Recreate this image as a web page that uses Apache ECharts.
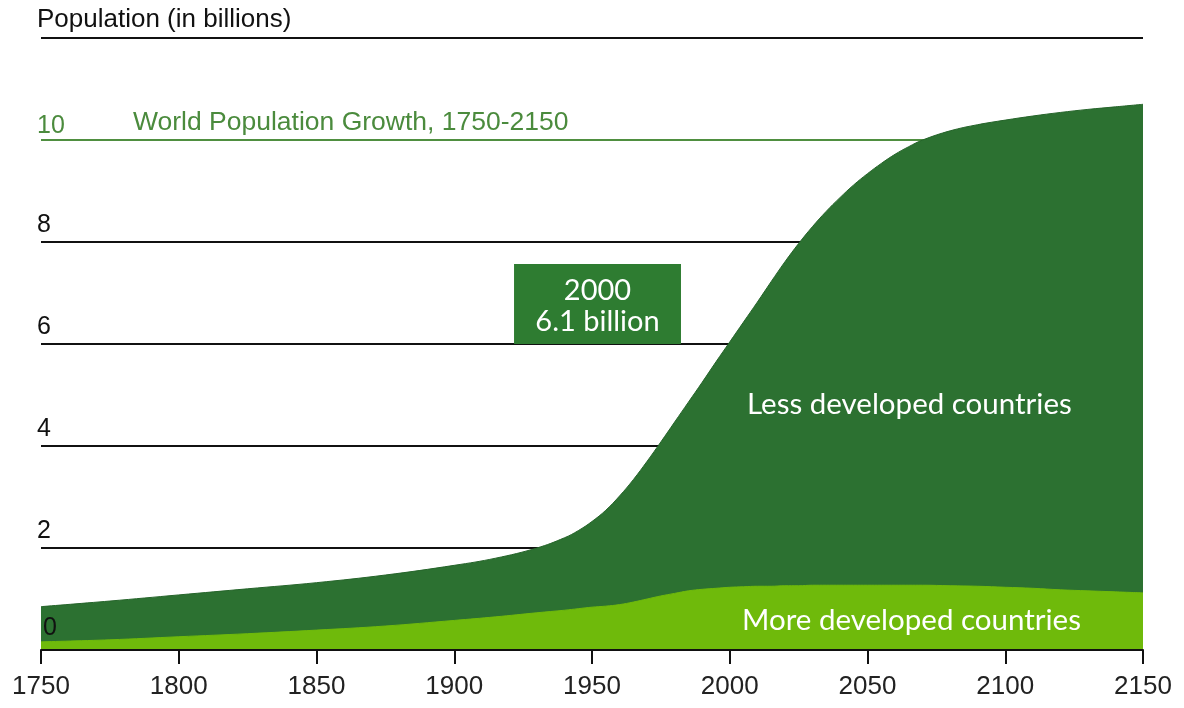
<!DOCTYPE html>
<html><head><meta charset="utf-8">
<script src="https://cdn.jsdelivr.net/npm/echarts@6/dist/echarts.min.js"></script>
<style>html,body{margin:0;padding:0;background:#fff}#c{width:1184px;height:708px}</style>
</head><body><div id="c"></div>
<script>
// Data (billions)
const years = [1750,1775,1800,1825,1850,1875,1900,1915,1930,1940,1945,1950,1955,1960,1965,1970,1975,1980,1985,1990,1995,2000,2005,2010,2015,2020,2025,2030,2035,2040,2045,2050,2055,2060,2065,2070,2080,2090,2100,2110,2120,2130,2140,2150];
const totalPopulation = [0.85,0.96,1.08,1.2,1.32,1.47,1.66,1.8,2.0,2.2,2.34,2.52,2.74,3.02,3.34,3.7,4.08,4.47,4.86,5.25,5.65,6.04,6.43,6.82,7.22,7.61,7.97,8.3,8.6,8.87,9.12,9.34,9.54,9.72,9.87,10.0,10.18,10.3,10.39,10.47,10.54,10.6,10.65,10.7];
const moreDeveloped = [0.16,0.2,0.26,0.32,0.39,0.47,0.58,0.65,0.73,0.78,0.81,0.84,0.86,0.89,0.94,1.0,1.06,1.11,1.16,1.19,1.21,1.23,1.24,1.25,1.25,1.26,1.26,1.27,1.27,1.27,1.27,1.27,1.27,1.27,1.27,1.27,1.26,1.25,1.23,1.21,1.18,1.16,1.14,1.12];
const xTicks = {min:1750, max:2150, step:50};
const yTicks = {min:0, max:12, step:2};
const titleText = 'World Population Growth, 1750-2150';
const yAxisTitle = 'Population (in billions)';
const annotationText = '2000\n6.1 billion';
const lessLabel = 'Less developed countries';
const moreLabel = 'More developed countries';

const totalData = years.map((y,i)=>[y,totalPopulation[i]]);
const moreData = years.map((y,i)=>[y,moreDeveloped[i]]);

const DARK = '#2c7131';
const LIGHT = '#6fba0b';
const GREEN_TXT = '#4b8b3d';

const chart = echarts.init(document.getElementById('c'), null, {renderer:'canvas'});
chart.setOption({
  backgroundColor:'#fff',
  animation:false,
  title:{text:titleText, left:128, top:104, textStyle:{color:GREEN_TXT, fontSize:26.5, fontWeight:'normal', fontFamily:'Liberation Sans'}},
  grid:{left:41, right:41, top:38, bottom:58},
  xAxis:{type:'value', min:xTicks.min, max:xTicks.max, interval:xTicks.step, z:10,
    axisLine:{show:true, lineStyle:{color:'#111', width:2}},
    axisTick:{show:true, length:14, lineStyle:{color:'#111', width:2}},
    axisLabel:{margin:24, fontSize:26, color:'#222', fontFamily:'Liberation Sans', formatter:v=>String(v)},
    splitLine:{show:false}},
  yAxis:[
    {type:'value', min:yTicks.min, max:yTicks.max, interval:yTicks.step, z:0,
     axisLine:{show:false}, axisTick:{show:false}, axisLabel:{show:false},
     splitLine:{show:true, lineStyle:{color:['#111','#111','#111','#111','#111','#4f8f40','#111'], width:2}}},
    {type:'value', min:yTicks.min, max:yTicks.max, interval:yTicks.step, z:10, position:'left',
     axisLine:{show:false}, axisTick:{show:false}, splitLine:{show:false},
     axisLabel:{show:true, align:'left', verticalAlign:'bottom', margin:4,
       formatter:v=> v===12 ? '{p|'+yAxisTitle+'}' : v===10 ? '{g|10}' : v===0 ? '{z|0}' : '{b|'+v+'}',
       rich:{
         p:{fontSize:26, color:'#111', fontFamily:'Liberation Sans', padding:[0,0,5,0]},
         g:{fontSize:25, color:GREEN_TXT, fontFamily:'Liberation Sans', padding:[0,0,1,0]},
         b:{fontSize:25, color:'#111', fontFamily:'Liberation Sans', padding:[0,0,4,0]},
         z:{fontSize:25, color:'#111', fontFamily:'Liberation Sans', padding:[0,0,9,6]}
       }}}
  ],
  series:[
    {name:'Total', type:'line', data:totalData, smooth:0.4, symbol:'none', z:2,
     lineStyle:{color:'#25642a', width:1}, areaStyle:{color:DARK, opacity:1},
     markArea:{silent:true, itemStyle:{color:'#2e7c31'},
       label:{show:true, position:'inside', formatter:annotationText, color:'#fff', fontSize:29, lineHeight:31, fontFamily:'Lato', offset:[0,2]},
       data:[[{coord:[1921.7,6]},{coord:[1982.3,7.57]}]]}},
    {name:'More developed', type:'line', data:moreData, smooth:0.4, symbol:'none', z:3,
     lineStyle:{color:LIGHT, width:1}, areaStyle:{color:LIGHT, opacity:1}}
  ],
  graphic:[
    {type:'text', x:747, y:404, z:20, style:{text:lessLabel, fill:'#fff', font:'29.5px Lato', textAlign:'left', textVerticalAlign:'middle'}},
    {type:'text', x:742, y:620, z:20, style:{text:moreLabel, fill:'#fff', font:'29.5px Lato', textAlign:'left', textVerticalAlign:'middle'}}
  ]
});
</script></body></html>
